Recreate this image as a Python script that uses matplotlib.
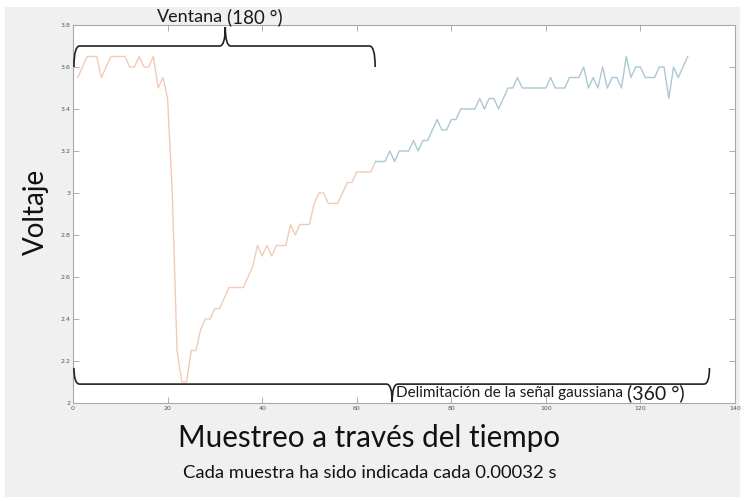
"""
Señal de voltaje muestreada, con la ventana de 180° y la delimitación de 360°
"""
import numpy as np
import matplotlib.pyplot as plt
from matplotlib.path import Path
from matplotlib.patches import PathPatch, Rectangle

# datos: índice de muestra y voltaje leído
muestras = np.arange(1, 131)
voltaje = [
    3.55, 3.60, 3.65, 3.65, 3.65, 3.55, 3.60, 3.65, 3.65, 3.65,
    3.65, 3.60, 3.60, 3.65, 3.60, 3.60, 3.65, 3.50, 3.55, 3.45,
    3.00, 2.25, 2.10, 2.10, 2.25, 2.25, 2.35, 2.40, 2.40, 2.45,
    2.45, 2.50, 2.55, 2.55, 2.55, 2.55, 2.60, 2.65, 2.75, 2.70,
    2.75, 2.70, 2.75, 2.75, 2.75, 2.85, 2.80, 2.85, 2.85, 2.85,
    2.95, 3.00, 3.00, 2.95, 2.95, 2.95, 3.00, 3.05, 3.05, 3.10,
    3.10, 3.10, 3.10, 3.15, 3.15, 3.15, 3.20, 3.15, 3.20, 3.20,
    3.20, 3.25, 3.20, 3.25, 3.25, 3.30, 3.35, 3.30, 3.30, 3.35,
    3.35, 3.40, 3.40, 3.40, 3.40, 3.45, 3.40, 3.45, 3.45, 3.40,
    3.45, 3.50, 3.50, 3.55, 3.50, 3.50, 3.50, 3.50, 3.50, 3.50,
    3.55, 3.50, 3.50, 3.50, 3.55, 3.55, 3.55, 3.60, 3.50, 3.55,
    3.50, 3.60, 3.50, 3.55, 3.55, 3.50, 3.65, 3.55, 3.60, 3.60,
    3.55, 3.55, 3.55, 3.60, 3.60, 3.45, 3.60, 3.55, 3.60, 3.65,
]
corte = 64  # la ventana (primera mitad) termina en esta muestra
x_ticks = [0, 20, 40, 60, 80, 100, 120, 140]
y_ticks = [2, 2.2, 2.4, 2.6, 2.8, 3, 3.2, 3.4, 3.6, 3.8]
y_etiquetas = ['2', '2.2', '2.4', '2.6', '2.8', '3', '3.2', '3.4', '3.6', '3.8']

W, H = 753, 501


def px(x, y):
    # pixeles de la imagen -> fraccion de la figura
    return x / W, 1 - y / H


def llave(ax, x0, x1, xm, y, y_ext, y_pico, r):
    # llave horizontal: extremos curvados hacia y_ext, pico en xm hacia y_pico
    verts = [(x0, y_ext), (x0, y), (x0 + r, y),
             (xm - r, y), (xm, y), (xm, y_pico),
             (xm, y), (xm + r, y),
             (x1 - r, y), (x1, y), (x1, y_ext)]
    codes = [Path.MOVETO, Path.CURVE3, Path.CURVE3,
             Path.LINETO, Path.CURVE3, Path.CURVE3,
             Path.CURVE3, Path.CURVE3,
             Path.LINETO, Path.CURVE3, Path.CURVE3]
    p = PathPatch(Path(verts, codes), fill=False, color='#222222',
                  lw=1.2, clip_on=False, zorder=5)
    ax.add_patch(p)


plt.rcParams['font.family'] = ['Lato', 'DejaVu Sans']

fig = plt.figure(figsize=(W / 100, H / 100), dpi=100, facecolor='white')
# fondo gris de la ventana
fig.patches.append(Rectangle(px(5, 497), 735 / W, 490 / H, transform=fig.transFigure,
                             facecolor='#f0f0f0', edgecolor='none', zorder=-10))

l, b = px(73, 403)
r_, t = px(735, 25)
ax = fig.add_axes([l, b, r_ - l, t - b])

ax.plot(muestras[:corte], voltaje[:corte], color='#f2cbb8', lw=1.0)
ax.plot(muestras[corte - 1:], voltaje[corte - 1:], color='#abc9d2', lw=1.0)

ax.set_xlim(0, 140)
ax.set_ylim(2, 3.8)
ax.set_xticks(x_ticks)
ax.set_yticks(y_ticks)
ax.set_xticklabels([str(v) for v in x_ticks], family='DejaVu Sans')
ax.set_yticklabels(y_etiquetas, family='DejaVu Sans')
ax.tick_params(direction='in', length=4, width=0.6, colors='#a0a0a0',
               labelcolor='#555555', labelsize=4.5, top=True, right=True,
               labeltop=False, labelright=False, pad=2)
for sp in ax.spines.values():
    sp.set_color('#a8a8a8')
    sp.set_linewidth(0.8)

# llaves dibujadas sobre la grafica
llave(ax, 0.2, 63.9, 32.2, 3.70, 3.60, 3.79, 1.2)
llave(ax, 0.2, 134.6, 67.5, 2.09, 2.167, 2.005, 1.2)

# textos
fig.text(*px(157, 22), 'Ventana', fontsize=13, color='#1a1a1a', va='baseline')
fig.text(*px(227, 23), '(180 °)', fontsize=13.5, color='#1a1a1a', va='baseline')
fig.text(*px(396, 397), 'Delimitación de la señal gaussiana', fontsize=11,
         color='#1a1a1a', va='baseline')
fig.text(*px(627, 399), '(360 °)', fontsize=14, color='#1a1a1a', va='baseline')

fig.text(*px(369, 447), 'Muestreo a través del tiempo', fontsize=21.3,
         color='#111111', ha='center', va='baseline')
fig.text(*px(370, 478), 'Cada muestra ha sido indicada cada 0.00032 s', fontsize=13.2,
         color='#111111', ha='center', va='baseline')
fig.text(*px(36, 212), 'Voltaje', fontsize=20, color='#111111', rotation=90,
         ha='center', va='center')

fig.savefig('out.png', dpi=100)
